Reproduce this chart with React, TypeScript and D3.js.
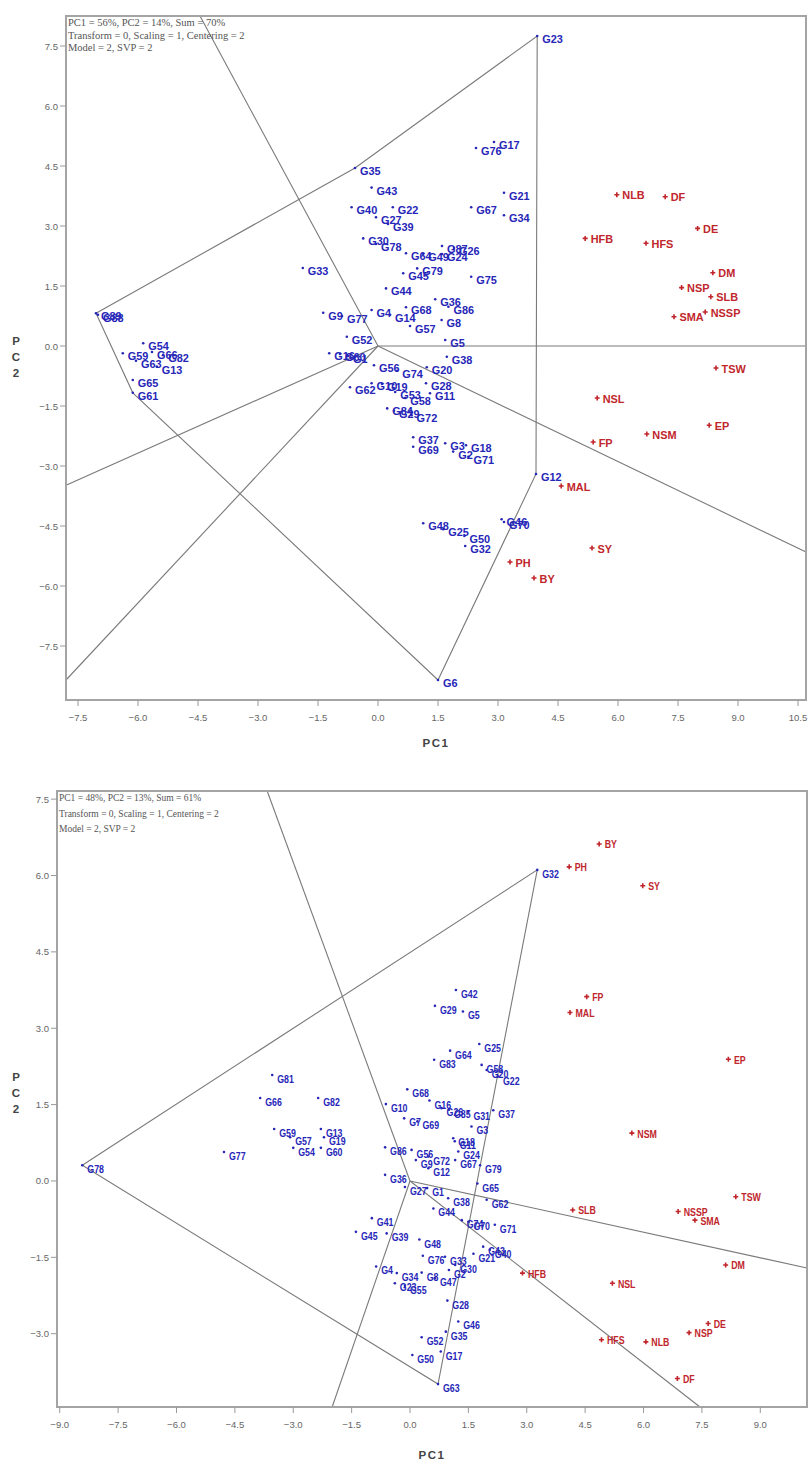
import * as d3 from "d3";
import * as React from "react";

type Pt = [string, number, number];

// ---------- upper biplot ----------
const topInfo = [
  "PC1 = 56%, PC2 = 14%, Sum = 70%",
  "Transform = 0, Scaling = 1, Centering = 2",
  "Model = 2, SVP = 2",
];
const topXTicks = [-7.5, -6, -4.5, -3, -1.5, 0, 1.5, 3, 4.5, 6, 7.5, 9, 10.5];
const topYTicks = [-7.5, -6, -4.5, -3, -1.5, 0, 1.5, 3, 4.5, 6, 7.5];

const topGenotypes: Pt[] = [
  ["G23", 3.98, 7.75], ["G17", 2.9, 5.1], ["G76", 2.45, 4.95], ["G35", -0.575, 4.45],
  ["G43", -0.16, 3.96], ["G40", -0.66, 3.47], ["G22", 0.37, 3.47], ["G27", -0.05, 3.22],
  ["G39", 0.25, 3.05], ["G30", -0.37, 2.69], ["G78", -0.05, 2.55], ["G21", 3.15, 3.83],
  ["G67", 2.33, 3.47], ["G34", 3.15, 3.27], ["G64", 0.7, 2.32], ["G49", 1.13, 2.3],
  ["G24", 1.6, 2.3], ["G87", 1.6, 2.5], ["G26", 1.9, 2.45], ["G79", 0.98, 1.94],
  ["G45", 0.63, 1.82], ["G75", 2.33, 1.73], ["G33", -1.88, 1.95], ["G44", 0.2, 1.44],
  ["G36", 1.43, 1.17], ["G86", 1.76, 0.98], ["G68", 0.7, 0.97], ["G4", -0.16, 0.9],
  ["G14", 0.3, 0.78], ["G9", -1.37, 0.83], ["G77", -0.9, 0.75], ["G8", 1.59, 0.65],
  ["G57", 0.8, 0.5], ["G52", -0.78, 0.23], ["G5", 1.68, 0.15], ["G38", 1.72, -0.27],
  ["G16", -1.22, -0.18], ["G60", -0.95, -0.2], ["G1", -0.75, -0.25], ["G56", -0.1, -0.48],
  ["G74", 0.48, -0.62], ["G20", 1.22, -0.53], ["G62", -0.7, -1.03], ["G10", -0.16, -0.93],
  ["G19", 0.1, -0.95], ["G28", 1.2, -0.93], ["G11", 1.3, -1.18], ["G53", 0.43, -1.15],
  ["G58", 0.68, -1.3], ["G84", 0.23, -1.56], ["G29", 0.4, -1.62], ["G72", 0.84, -1.73],
  ["G37", 0.88, -2.28], ["G69", 0.88, -2.52], ["G3", 1.68, -2.43], ["G18", 2.2, -2.48],
  ["G2", 1.88, -2.64], ["G71", 2.26, -2.77], ["G12", 3.95, -3.2], ["G46", 3.09, -4.33],
  ["G70", 3.15, -4.4], ["G48", 1.13, -4.43], ["G25", 1.63, -4.58], ["G50", 2.16, -4.75],
  ["G32", 2.18, -5.0], ["G6", 1.5, -8.35], ["G89", -7.05, 0.82], ["G88", -7.0, 0.78],
  ["G54", -5.87, 0.07], ["G59", -6.38, -0.18], ["G63", -6.05, -0.37], ["G66", -5.65, -0.15],
  ["G82", -5.37, -0.22], ["G13", -5.53, -0.52], ["G65", -6.13, -0.85], ["G61", -6.13, -1.17],
];
const topTraits: Pt[] = [
  ["NLB", 5.97, 3.78], ["DF", 7.18, 3.73], ["DE", 7.99, 2.94], ["HFB", 5.18, 2.69],
  ["HFS", 6.7, 2.57], ["DM", 8.37, 1.83], ["NSP", 7.59, 1.46], ["SLB", 8.32, 1.23],
  ["NSSP", 8.18, 0.85], ["SMA", 7.4, 0.73], ["TSW", 8.45, -0.55], ["NSL", 5.48, -1.3],
  ["EP", 8.28, -1.98], ["NSM", 6.72, -2.2], ["FP", 5.38, -2.4], ["MAL", 4.58, -3.5],
  ["SY", 5.35, -5.05], ["PH", 3.3, -5.4], ["BY", 3.9, -5.8],
];
const topHull = ["G89", "G35", "G23", "G12", "G6", "G61"];
const topRays: [number, number][] = [[-4.45, 8.25], [10.7, 0], [10.7, -5.15], [-7.8, -8.35], [-7.8, -3.48]];

// ---------- lower biplot ----------
const botInfo = [
  "PC1 = 48%, PC2 = 13%, Sum = 61%",
  "Transform = 0, Scaling = 1, Centering = 2",
  "Model = 2, SVP = 2",
];
const botXTicks = [-9, -7.5, -6, -4.5, -3, -1.5, 0, 1.5, 3, 4.5, 6, 7.5, 9];
const botYTicks = [-3, -1.5, 0, 1.5, 3, 4.5, 6, 7.5];

const botGenotypes: Pt[] = [
  ["G32", 3.27, 6.11], ["G78", -8.42, 0.31], ["G63", 0.72, -3.99], ["G42", 1.18, 3.75],
  ["G29", 0.64, 3.44], ["G5", 1.36, 3.33], ["G25", 1.78, 2.69], ["G64", 1.03, 2.56],
  ["G83", 0.62, 2.38], ["G58", 1.84, 2.28], ["G20", 1.97, 2.18], ["G22", 2.26, 2.05],
  ["G68", -0.07, 1.8], ["G10", -0.62, 1.51], ["G16", 0.5, 1.58], ["G26", 0.81, 1.43],
  ["G85", 1.0, 1.4], ["G31", 1.5, 1.36], ["G37", 2.14, 1.39], ["G7", -0.15, 1.23],
  ["G69", 0.19, 1.17], ["G3", 1.58, 1.07], ["G18", 1.11, 0.84], ["G11", 1.15, 0.78],
  ["G86", -0.64, 0.66], ["G56", 0.04, 0.61], ["G72", 0.47, 0.48], ["G9", 0.15, 0.41],
  ["G12", 0.47, 0.25], ["G67", 1.16, 0.41], ["G24", 1.24, 0.58], ["G79", 1.8, 0.31],
  ["G36", -0.64, 0.12], ["G27", -0.13, -0.12], ["G1", 0.44, -0.14], ["G38", 0.98, -0.34],
  ["G44", 0.6, -0.54], ["G65", 1.73, -0.05], ["G62", 1.97, -0.37], ["G74", 1.33, -0.77],
  ["G70", 1.5, -0.8], ["G71", 2.18, -0.86], ["G41", -0.98, -0.73], ["G45", -1.39, -1.0],
  ["G39", -0.6, -1.03], ["G48", 0.24, -1.15], ["G76", 0.33, -1.47], ["G33", 0.9, -1.49],
  ["G43", 1.88, -1.29], ["G21", 1.63, -1.43], ["G40", 2.05, -1.35], ["G30", 1.16, -1.65],
  ["G4", -0.87, -1.68], ["G34", -0.34, -1.81], ["G8", 0.3, -1.8], ["G47", 0.64, -1.91],
  ["G23", -0.39, -2.01], ["G55", -0.13, -2.06], ["G2", 1.0, -1.75], ["G28", 0.96, -2.35],
  ["G46", 1.24, -2.76], ["G52", 0.3, -3.07], ["G35", 0.92, -2.96], ["G50", 0.06, -3.42],
  ["G17", 0.79, -3.35], ["G81", -3.54, 2.08], ["G66", -3.85, 1.63], ["G82", -2.36, 1.63],
  ["G59", -3.49, 1.02], ["G13", -2.29, 1.02], ["G57", -3.08, 0.86], ["G19", -2.21, 0.86],
  ["G54", -3.0, 0.65], ["G60", -2.29, 0.65], ["G77", -4.78, 0.57],
];
const botTraits: Pt[] = [
  ["BY", 4.86, 6.62], ["PH", 4.09, 6.17], ["SY", 5.98, 5.8], ["FP", 4.54, 3.62],
  ["MAL", 4.11, 3.31], ["EP", 8.18, 2.39], ["NSM", 5.7, 0.94], ["TSW", 8.37, -0.31],
  ["SLB", 4.18, -0.57], ["NSSP", 6.89, -0.6], ["SMA", 7.32, -0.77], ["DM", 8.11, -1.65],
  ["HFB", 2.89, -1.81], ["NSL", 5.2, -2.01], ["DE", 7.66, -2.8], ["NSP", 7.17, -2.98],
  ["HFS", 4.92, -3.12], ["NLB", 6.06, -3.16], ["DF", 6.87, -3.88],
];
const botHull = ["G78", "G32", "G63"];
const botRays: [number, number][] = [[-3.67, 7.66], [10.2, -1.71], [7.45, -4.44], [-2.0, -4.44]];

const BLUE = "#2626b8";
const RED = "#c0262c";
const LINE = "#7a7a7a";
const fmt = d3.format(".1f");

interface PanelProps {
  left: number; right: number; top: number; bottom: number;
  xDomain: [number, number]; yDomain: [number, number];
  xTicks: number[]; yTicks: number[];
  genotypes: Pt[]; traits: Pt[]; hull: string[]; rays: [number, number][];
  info: string[]; infoSize: number; infoStep: number;
  narrow: number; labelSize: number; gDy: number;
  pcY: number; titleY: number;
}

function Biplot(p: PanelProps) {
  const x = d3.scaleLinear().domain(p.xDomain).range([p.left, p.right]);
  const y = d3.scaleLinear().domain(p.yDomain).range([p.bottom, p.top]);
  const byName = new Map(p.genotypes.map(g => [g[0], g]));
  const hullPath = d3.line<Pt>()
    .x(d => x(d[1])).y(d => y(d[2]))
    .curve(d3.curveLinearClosed)(p.hull.map(n => byName.get(n)!));
  const font = "'Liberation Sans', Arial, sans-serif";
  const cx = (p.left + p.right) / 2;

  return (
    <g>
      {/* polygon and sector rays */}
      <path d={hullPath!} fill="none" stroke={LINE} strokeWidth={1.1} />
      {p.rays.map((r, i) => (
        <line key={i} x1={x(0)} y1={y(0)} x2={x(r[0])} y2={y(r[1])} stroke={LINE} strokeWidth={1.1} />
      ))}

      {/* genotypes */}
      {p.genotypes.map(g => (
        <g key={g[0]} fill={BLUE}>
          <circle cx={x(g[1])} cy={y(g[2])} r={1.3} />
          <text transform={`translate(${x(g[1]) + 5},${y(g[2]) + p.gDy}) scale(${p.narrow},1)`}
            fontFamily={font} fontSize={p.labelSize} fontWeight="bold">{g[0]}</text>
        </g>
      ))}

      {/* traits */}
      {p.traits.map(t => (
        <g key={t[0]}>
          <path d={`M${x(t[1]) - 2.5},${y(t[2])}h5M${x(t[1])},${y(t[2]) - 2.5}v5`} stroke={RED} strokeWidth={1.6} />
          <text transform={`translate(${x(t[1]) + 5.5},${y(t[2]) + 4.5}) scale(${p.narrow},1)`}
            fontFamily={font} fontSize={p.labelSize} fontWeight="bold" fill={RED}>{t[0]}</text>
        </g>
      ))}

      {/* frame */}
      <rect x={p.left} y={p.top} width={p.right - p.left} height={p.bottom - p.top}
        fill="none" stroke="#a4a4a4" strokeWidth={2} />

      {/* axes */}
      {p.xTicks.map(t => (
        <g key={"x" + t}>
          <line x1={x(t)} x2={x(t)} y1={p.bottom} y2={p.bottom + 6} stroke="#999" />
          <text x={x(t)} y={p.bottom + 21} textAnchor="middle" fontFamily={font} fontSize={9.5} fill="#666">{fmt(t)}</text>
        </g>
      ))}
      {p.yTicks.map(t => (
        <g key={"y" + t}>
          <line x1={p.left - 6} x2={p.left} y1={y(t)} y2={y(t)} stroke="#999" />
          <text x={p.left - 8} y={y(t) + 3.5} textAnchor="end" fontFamily={font} fontSize={9.5} fill="#666">{fmt(t)}</text>
        </g>
      ))}
      <text x={cx} y={p.titleY} textAnchor="middle" fontFamily={font} fontSize={11.5} fontWeight="bold"
        letterSpacing={1.5} fill="#444">PC1</text>
      {["P", "C", "2"].map((c, i) => (
        <text key={c} x={16} y={p.pcY + i * 16} textAnchor="middle" fontFamily={font} fontSize={11.5}
          fontWeight="bold" fill="#444">{c}</text>
      ))}

      {/* model information */}
      {p.info.map((s, i) => (
        <text key={i} x={p.left + 2} y={p.top + 10 + i * p.infoStep} fontFamily="'Liberation Serif', 'Times New Roman', serif"
          fontSize={p.infoSize} fill="#555">{s}</text>
      ))}
    </g>
  );
}

export default function App() {
  return (
    <svg width={809} height={1463} style={{ position: "absolute", left: 0, top: 0, background: "#fff" }}>
      <Biplot left={66} right={806} top={16} bottom={700}
        xDomain={[-7.8, 10.7]} yDomain={[-8.85, 8.25]}
        xTicks={topXTicks} yTicks={topYTicks}
        genotypes={topGenotypes} traits={topTraits} hull={topHull} rays={topRays}
        info={topInfo} infoSize={10.5} infoStep={12.5}
        narrow={0.95} labelSize={11.5} gDy={7} pcY={345} titleY={747} />
      <Biplot left={57} right={807} top={791} bottom={1407}
        xDomain={[-9.07, 10.2]} yDomain={[-4.44, 7.66]}
        xTicks={botXTicks} yTicks={botYTicks}
        genotypes={botGenotypes} traits={botTraits} hull={botHull} rays={botRays}
        info={botInfo} infoSize={9.5} infoStep={15.5}
        narrow={0.8} labelSize={11} gDy={8} pcY={1081} titleY={1459} />
    </svg>
  );
}
